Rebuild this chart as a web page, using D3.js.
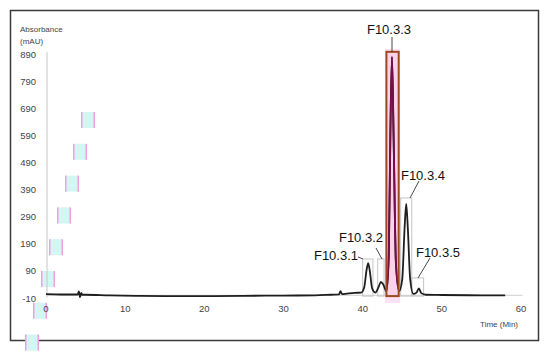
<!DOCTYPE html>
<html>
<head>
<meta charset="utf-8">
<script src="https://cdn.jsdelivr.net/npm/d3@7"></script>
<style>
  body { margin: 0; background: #fff; }
  svg { display: block; }
</style>
</head>
<body>
<div class="canvas"></div>
<script>
// chromatogram trace (time in min, absorbance in mAU)
const times = [0, 2, 4, 4.15, 4.3, 4.45, 4.6, 5, 8, 12, 16, 20, 25, 30, 34, 36, 37, 37.2, 37.4, 38, 39, 39.8,
    40.2, 40.5, 40.7, 40.9, 41.2, 41.6, 42, 42.3, 42.6, 43, 43.3, 43.5, 43.7, 43.9, 44.2, 44.6,
    45, 45.3, 45.5, 45.7, 46, 46.4, 46.8, 47.1, 47.4, 48, 50, 55, 58];
const absorb = [4, 3, 3, 14, -7, 9, 2, 2, 0, -2, -3, -3, -2, -1, 0, 2, 3, 15, 4, 6, 9, 10,
    30, 95, 119, 90, 25, 10, 30, 49, 40, 15, 150, 600, 879, 600, 120, 15,
    60, 250, 337, 250, 60, 5, 10, 25, 8, 2, 1, 0, 0];

const yTicks = [-10, 90, 190, 290, 390, 490, 590, 690, 790, 890];
const xTicks = [0, 10, 20, 30, 40, 50, 60];

// fraction boxes: name, start, end, top (mAU)
const fractions = ['F10.3.1', 'F10.3.2', 'F10.3.3', 'F10.3.4', 'F10.3.5'];
const fracStart = [40.0, 41.9, 43.0, 44.8, 46.2];
const fracEnd = [41.3, 42.7, 44.55, 46.2, 47.7];
const fracTop = [134, 134, 898, 359, 64];

const W = 550, H = 352;
const canvas = d3.select('.canvas');
const svg = canvas.append('svg').attr('width', W).attr('height', H);

const x = d3.scaleLinear().domain([0, 60]).range([46, 521]);
const y = d3.scaleLinear().domain([-10, 890]).range([298, 54]);

const font = 'Liberation Sans, Arial, sans-serif';

// outer frame
svg.append('rect')
    .attr('x', 10.5).attr('y', 10.5)
    .attr('width', 528).attr('height', 330)
    .attr('fill', 'none').attr('stroke', '#3a3a3a').attr('stroke-width', 1.5);

// pale pink strip behind the main fraction
const main = 2;
svg.append('rect')
    .attr('x', x(fracStart[main]) - 1.5).attr('y', y(fracTop[main]) - 3)
    .attr('width', x(fracEnd[main]) - x(fracStart[main]) + 3)
    .attr('height', y(-28) - y(fracTop[main]) + 3)
    .attr('fill', '#fce0f3');

// odd cyan blocks on the left of the original image
const glitch = d3.range(8);
svg.selectAll('.glitch').data(glitch).enter().append('g')
    .attr('class', 'glitch')
    .each(function (d) {
        const g = d3.select(this);
        const gx = 81 - d * 8, gy = 112 + d * 31.8;
        g.append('rect').attr('x', gx).attr('y', gy).attr('width', 14).attr('height', 16).attr('fill', '#d2f6f1');
        g.append('rect').attr('x', gx).attr('y', gy).attr('width', 1.5).attr('height', 16).attr('fill', '#f59ee0');
        g.append('rect').attr('x', gx + 12.5).attr('y', gy).attr('width', 1.5).attr('height', 16).attr('fill', '#f59ee0');
    });

// y axis line and labels
svg.append('line')
    .attr('x1', 47).attr('x2', 47)
    .attr('y1', y(898)).attr('y2', y(-8))
    .attr('stroke', '#c8c8c8').attr('stroke-width', 1);

svg.selectAll('.ytick').data(yTicks).enter().append('text')
    .attr('class', 'ytick')
    .attr('x', 36).attr('y', d => y(d) + 3.5)
    .attr('text-anchor', 'end')
    .attr('font-family', font)
    .attr('font-size', 9.5).attr('fill', '#444')
    .text(d => d);

svg.append('text').attr('x', 20).attr('y', 32)
    .attr('font-family', font)
    .attr('font-size', 8).attr('fill', '#444').text('Absorbance');
svg.append('text').attr('x', 20).attr('y', 44)
    .attr('font-family', font)
    .attr('font-size', 8).attr('fill', '#444').text('(mAU)');

// x baseline and labels
svg.append('line')
    .attr('x1', x(0)).attr('x2', x(60.2))
    .attr('y1', y(0)).attr('y2', y(0))
    .attr('stroke', '#cfcfcf').attr('stroke-width', 1);

svg.selectAll('.xtick').data(xTicks).enter().append('text')
    .attr('class', 'xtick')
    .attr('x', d => x(d)).attr('y', 312)
    .attr('text-anchor', 'middle')
    .attr('font-family', font)
    .attr('font-size', 9.5).attr('fill', '#444')
    .text(d => d);

svg.append('text').attr('x', 518).attr('y', 327)
    .attr('text-anchor', 'end')
    .attr('font-family', font)
    .attr('font-size', 8).attr('fill', '#444').text('Time (Min)');

// grey fraction boxes
const boxes = d3.range(fractions.length).filter(i => i !== main);
svg.selectAll('.frac').data(boxes).enter().append('rect')
    .attr('class', 'frac')
    .attr('x', i => x(fracStart[i])).attr('y', i => y(fracTop[i]))
    .attr('width', i => x(fracEnd[i]) - x(fracStart[i]))
    .attr('height', i => y(-3) - y(fracTop[i]))
    .attr('fill', 'none').attr('stroke', '#c4c4c4').attr('stroke-width', 1);

// the trace
const pts = times.map((t, i) => [t, absorb[i]]);
const line = d3.line().x(d => x(d[0])).y(d => y(d[1])).curve(d3.curveMonotoneX);
svg.append('path')
    .attr('d', line(pts))
    .attr('fill', 'none').attr('stroke', '#1e1e1e').attr('stroke-width', 1.8)
    .attr('stroke-linejoin', 'round');

// inside the red box the trace shows as dark magenta
svg.append('clipPath').attr('id', 'mainClip')
    .append('rect')
    .attr('x', x(fracStart[main]) + 1).attr('y', y(fracTop[main]))
    .attr('width', x(fracEnd[main]) - x(fracStart[main]) - 2)
    .attr('height', y(-3) - y(fracTop[main]));
svg.append('path')
    .attr('d', line(pts))
    .attr('clip-path', 'url(#mainClip)')
    .attr('fill', 'none').attr('stroke', '#6e0c44').attr('stroke-width', 1.9)
    .attr('stroke-linejoin', 'round');

// red box round the main fraction
svg.append('rect')
    .attr('x', x(fracStart[main])).attr('y', y(fracTop[main]))
    .attr('width', x(fracEnd[main]) - x(fracStart[main]))
    .attr('height', y(-3) - y(fracTop[main]))
    .attr('fill', '#e0307a').attr('fill-opacity', 0.07)
    .attr('stroke', '#9e4a1e').attr('stroke-width', 2);

// labels and leaders: text centre, text baseline, leader start, leader end (px)
const labX = [336, 361, 389, 423, 438];
const labY = [260, 242, 34, 180, 257];
const leadFrom = [[358, 257], [376, 248], [392, 37], [419, 181], [430, 258]];
const leadTo = [[363, 259], [382, 259], [392, 52], [410, 198], [418, 278]];

svg.selectAll('.lead').data(fractions).enter().append('line')
    .attr('class', 'lead')
    .attr('x1', (d, i) => leadFrom[i][0]).attr('y1', (d, i) => leadFrom[i][1])
    .attr('x2', (d, i) => leadTo[i][0]).attr('y2', (d, i) => leadTo[i][1])
    .attr('stroke', '#333').attr('stroke-width', 0.9);

svg.selectAll('.lab').data(fractions).enter().append('text')
    .attr('class', 'lab')
    .attr('x', (d, i) => labX[i]).attr('y', (d, i) => labY[i])
    .attr('text-anchor', 'middle')
    .attr('font-family', font)
    .attr('font-size', 13).attr('fill', '#111')
    .text(d => d);
</script>
</body>
</html>
